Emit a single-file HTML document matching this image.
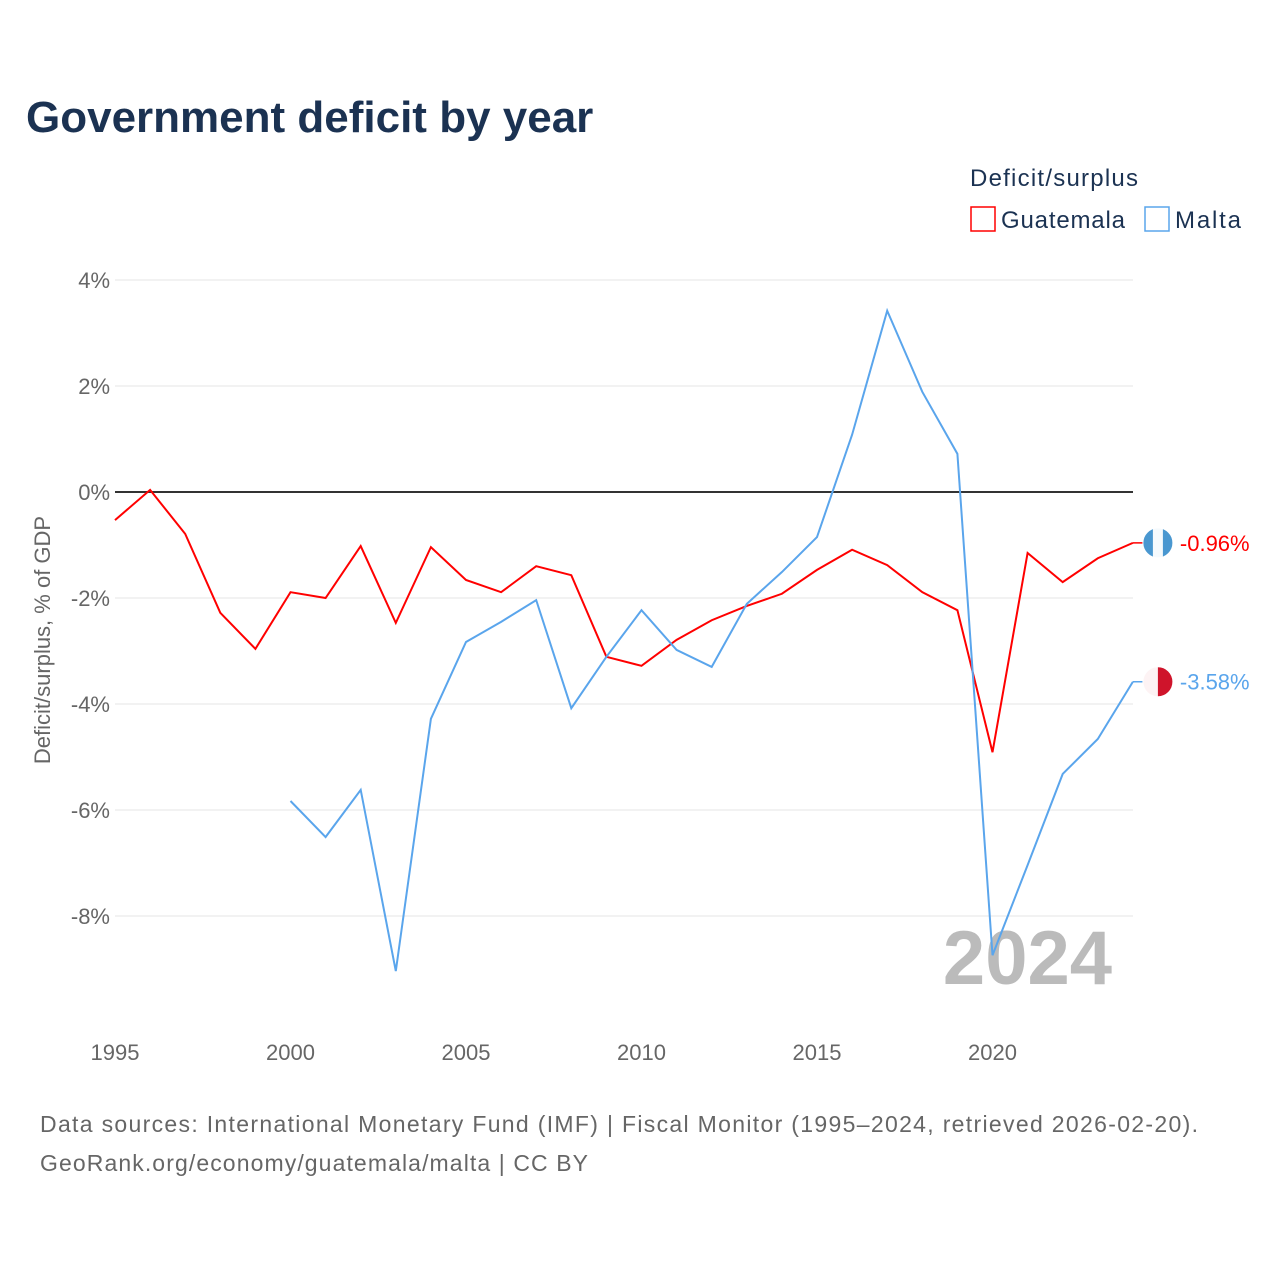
<!DOCTYPE html>
<html><head><meta charset="utf-8">
<style>
html,body{margin:0;padding:0;background:#fff;}
body{width:1280px;height:1280px;overflow:hidden;font-family:"Liberation Sans",sans-serif;}
</style></head>
<body>
<svg id="chart" width="1280" height="1280" xmlns="http://www.w3.org/2000/svg">
<text x="26" y="132" font-size="44" font-weight="bold" fill="#1b3252">Government deficit by year</text>
<text x="970" y="186" font-size="24" fill="#1b3252" textLength="168">Deficit/surplus</text>
<g>
<rect x="971" y="207" width="24" height="24" fill="none" stroke="#f00" stroke-width="1.5"/>
<text x="1001" y="228" font-size="24" fill="#1b3252" textLength="124">Guatemala</text></g>
<g>
<rect x="1145" y="207" width="24" height="24" fill="none" stroke="#5aa5ec" stroke-width="1.5"/>
<text x="1175" y="228" font-size="24" fill="#1b3252" textLength="66">Malta</text></g>
<text transform="translate(50,640) rotate(-90)" text-anchor="middle" font-size="22" fill="#666">Deficit/surplus, % of GDP</text>
<g id="grid"></g>
<text x="1112" y="984" text-anchor="end" font-size="76" font-weight="bold" fill="#bbb">2024</text>
<g id="series"></g>
<text x="40" y="1132" font-size="23" fill="#666" textLength="1158">Data sources: International Monetary Fund (IMF) | Fiscal Monitor (1995–2024, retrieved 2026-02-20).</text>
<text x="40" y="1171" font-size="23" fill="#666" textLength="548">GeoRank.org/economy/guatemala/malta | CC BY</text>
</svg>
<script>
const years=[1995,1996,1997,1998,1999,2000,2001,2002,2003,2004,2005,2006,2007,2008,2009,2010,2011,2012,2013,2014,2015,2016,2017,2018,2019,2020,2021,2022,2023,2024];
const guatemala=[-0.53,0.04,-0.79,-2.28,-2.96,-1.89,-2.0,-1.02,-2.47,-1.04,-1.66,-1.89,-1.40,-1.57,-3.11,-3.28,-2.79,-2.42,-2.15,-1.92,-1.47,-1.09,-1.38,-1.89,-2.23,-4.91,-1.15,-1.70,-1.25,-0.96];
const malta=[null,null,null,null,null,-5.83,-6.51,-5.62,-9.04,-4.28,-2.83,-2.45,-2.04,-4.08,-3.11,-2.23,-2.98,-3.30,-2.11,-1.51,-0.85,1.08,3.42,1.89,0.72,-8.74,-7.04,-5.32,-4.66,-3.58];
const yTicks=[4,2,0,-2,-4,-6,-8];
const xTicks=[1995,2000,2005,2010,2015,2020];
const NS="http://www.w3.org/2000/svg";
const xs=y=>115+(y-1995)*35.1;
const ys=v=>492-v*53;
const grid=document.getElementById('grid'),series=document.getElementById('series');
function mk(tag,attrs,parent){const e=document.createElementNS(NS,tag);for(const k in attrs)e.setAttribute(k,attrs[k]);parent.appendChild(e);return e;}
yTicks.forEach(t=>{
 const l=mk('line',{x1:115,x2:1133,y1:ys(t),y2:ys(t),stroke:t===0?'#333':'#e6e6e6','stroke-width':t===0?2:1},grid);
 
 
 const tx=mk('text',{x:110,y:ys(t)+8,'text-anchor':'end','font-size':22,fill:'#666'},grid);
 tx.textContent=t+'%';
 
 
});
xTicks.forEach(t=>{
 const tx=mk('text',{x:xs(t),y:1060,'text-anchor':'middle','font-size':22,fill:'#666'},grid);
 tx.textContent=t;
 
 
});
function line(vals,color,name){
 let d='';vals.forEach((v,i)=>{if(v===null)return;d+=(d?'L':'M')+xs(years[i])+','+ys(v);});
 const p=mk('path',{d:d,fill:'none',stroke:color,'stroke-width':2},series);
 
 
 const last=vals[vals.length-1],cx=xs(years[years.length-1])+25,cy=ys(last);
 mk('line',{x1:xs(years[years.length-1]),x2:cx-15,y1:cy,y2:cy,stroke:color,'stroke-width':1.5},series);
 const c=mk('circle',{cx:cx,cy:cy,r:15,fill:name==='guatemala'?'#4997d0':'#cf142b',stroke:'#fff','stroke-width':1},series);
 
 
 mk('rect',{x:name==='guatemala'?cx-5:cx-15,y:cy-15,width:name==='guatemala'?10:15,height:30,fill:'#fff',opacity:0.95},series);
 const t=mk('text',{x:cx+22,y:cy+8,'font-size':22,fill:color},series);
 t.textContent=last.toFixed(2)+'%';
 
 
}
line(guatemala,'#f00','guatemala');
line(malta,'#5aa5ec','malta');
</script>
</body></html>
